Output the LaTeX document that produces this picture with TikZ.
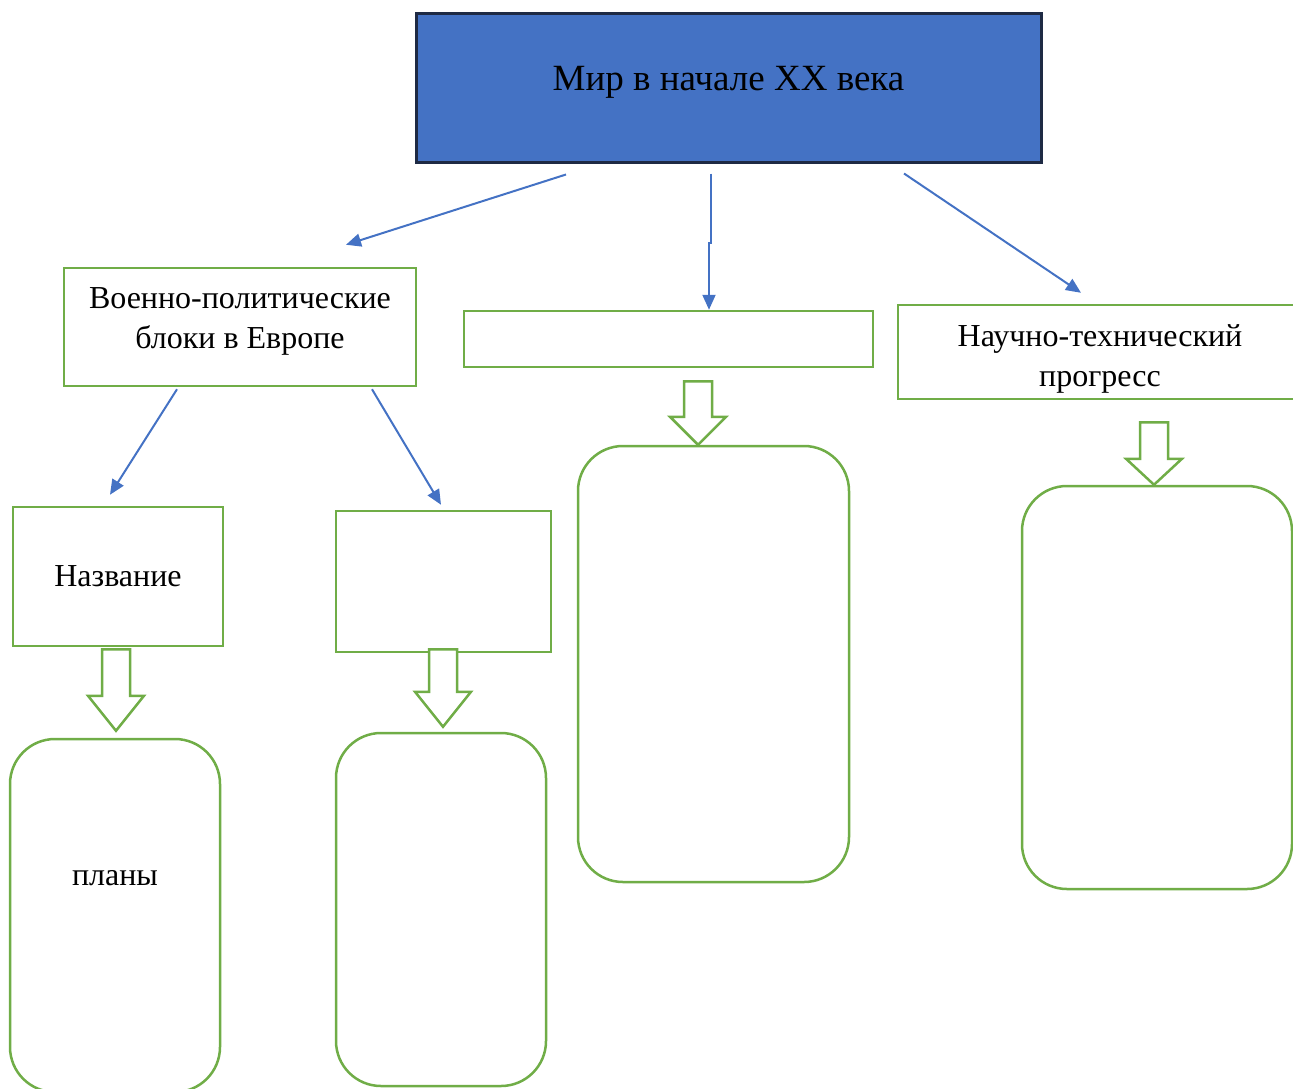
\documentclass[tikz,border=0pt]{standalone}
\usepackage{fontspec}
\setmainfont{Liberation Serif}
\usetikzlibrary{arrows.meta,calc}

\definecolor{titleblue}{HTML}{4472C4}
\definecolor{titleline}{HTML}{1E2A44}
\definecolor{boxgreen}{HTML}{70AD47}

% hollow block arrow: top centre, tip, head length
\newcommand{\blockdown}[3]{%
  \draw[block arrow] let \p1=(#1), \p2=(#2) in
    (\x2-14pt,\y1) -- (\x2+14pt,\y1) -- (\x2+14pt,\y2+#3) -- (\x2+28pt,\y2+#3)
    -- (\x2,\y2) -- (\x2-28pt,\y2+#3) -- (\x2-14pt,\y2+#3) -- cycle;}

\begin{document}
\begin{tikzpicture}[x=1pt,y=-1pt,>={Triangle[length=15pt,width=13pt]},
    title node/.style={draw=titleline,line width=3pt,fill=titleblue,inner sep=0pt,font=\fontsize{37}{44}\selectfont,text height=26pt,text depth=20pt},
    box node/.style={draw=boxgreen,line width=2.5pt,fill=white,inner sep=0pt,align=center,font=\fontsize{32}{40}\selectfont},
    round node/.style={box node,rounded corners=45pt},
    blue arrow/.style={color=titleblue,line width=2pt,->},
    block arrow/.style={draw=boxgreen,line width=2.5pt,fill=white,line join=miter}]
    \useasboundingbox (0,0) rectangle (1293,1088);

    \node[title node,minimum width=625pt,minimum height=149pt] (1) at (728.5,87.5) {Мир в начале XX века};
    \node[box node,minimum width=352pt,minimum height=118pt,text depth=18pt] (2) at (240,327) {Военно-политические\\блоки в Европе};
    \node[box node,minimum width=409pt,minimum height=56pt] (3) at (668.5,339) {};
    \node[box node,minimum width=404pt,minimum height=94pt,text height=75pt,text depth=7pt] (4) at (1100,352) {Научно-технический\\прогресс};
    \node[box node,minimum width=210pt,minimum height=139pt] (5) at (118,576.5) {Название};
    \node[box node,minimum width=215pt,minimum height=141pt] (6) at (443.5,581.5) {};
    \node[round node,minimum width=271pt,minimum height=436pt] (7) at (713.5,664) {};
    \node[round node,minimum width=270pt,minimum height=403pt] (8) at (1157,687.5) {};
    \node[round node,minimum width=210pt,minimum height=353pt,text height=20pt,text depth=81pt] (9) at (115,915.5) {планы};
    \node[round node,minimum width=210pt,minimum height=353pt] (10) at (441,909.5) {};

    \path
        ($(1.south)+(-162.5,11)$) edge[blue arrow] ($(2.north)+(106,-22)$)
        ($(1.south)+(175.5,10)$) edge[blue arrow] ($(4.north)+(-19,-11)$)
        ($(2.south)+(-63,2)$) edge[blue arrow] ($(5.north)+(-8,-11)$)
        ($(2.south)+(132,2)$) edge[blue arrow] ($(6.north)+(-2.5,-5)$)
        ;
    \draw[blue arrow] ($(1.south)+(-17.5,10)$) -- ++(0,69) -| ($(3.north)+(40.5,0)$);

    \blockdown{$(5.south)+(-1.5,2)$}{$(9.north)+(1,-7)$}{35pt}
    \blockdown{$(6.south)+(0,-4)$}{$(10.north)+(2,-5)$}{35pt}
    \blockdown{$(3.south)+(29.5,13)$}{$(7.north)+(-15.5,0)$}{28pt}
    \blockdown{$(4.south)+(54,22)$}{$(8.north)+(-3,0)$}{26pt}
\end{tikzpicture}
\end{document}
